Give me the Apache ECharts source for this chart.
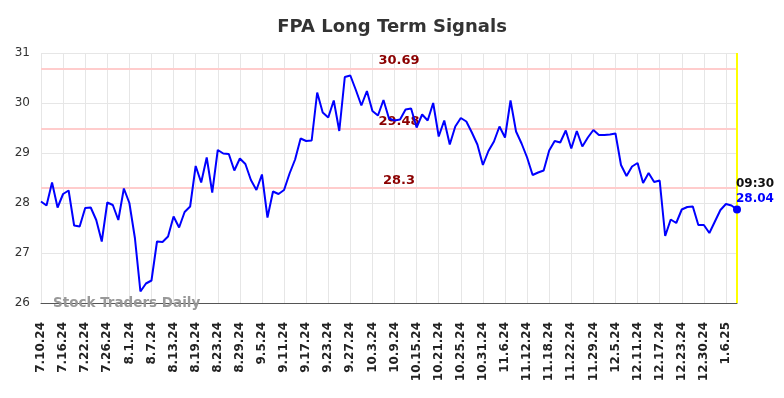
<!DOCTYPE html>
<html>
<head>
<meta charset="utf-8">
<script src="https://cdn.jsdelivr.net/npm/echarts@6/dist/echarts.min.js"></script>
<style>html,body{margin:0;padding:0;background:#fff}#c{width:784px;height:398px}</style>
</head>
<body>
<div id="c"></div>
<script>
const dates = [
 '7.10.24','7.11.24','7.12.24','7.15.24','7.16.24','7.17.24','7.18.24','7.19.24','7.22.24','7.23.24','7.24.24','7.25.24','7.26.24','7.29.24','7.30.24','7.31.24',
 '8.1.24','8.2.24','8.5.24','8.6.24','8.7.24','8.8.24','8.9.24','8.12.24','8.13.24','8.14.24','8.15.24','8.16.24','8.19.24','8.20.24','8.21.24','8.22.24','8.23.24','8.26.24','8.27.24','8.28.24','8.29.24','8.30.24',
 '9.3.24','9.4.24','9.5.24','9.6.24','9.9.24','9.10.24','9.11.24','9.12.24','9.13.24','9.16.24','9.17.24','9.18.24','9.19.24','9.20.24','9.23.24','9.24.24','9.25.24','9.26.24','9.27.24','9.30.24',
 '10.1.24','10.2.24','10.3.24','10.4.24','10.7.24','10.8.24','10.9.24','10.10.24','10.11.24','10.14.24','10.15.24','10.16.24','10.17.24','10.18.24','10.21.24','10.22.24','10.23.24','10.24.24','10.25.24','10.28.24','10.29.24','10.30.24','10.31.24',
 '11.1.24','11.4.24','11.5.24','11.6.24','11.7.24','11.8.24','11.11.24','11.12.24','11.13.24','11.14.24','11.15.24','11.18.24','11.19.24','11.20.24','11.21.24','11.22.24','11.25.24','11.26.24','11.27.24','11.29.24',
 '12.2.24','12.3.24','12.4.24','12.5.24','12.6.24','12.9.24','12.10.24','12.11.24','12.12.24','12.13.24','12.16.24','12.17.24','12.18.24','12.19.24','12.20.24','12.23.24','12.24.24','12.26.24','12.27.24','12.30.24','12.31.24',
 '1.2.25','1.3.25','1.6.25','1.7.25','1.8.25'
];
const prices = [
 28.03,27.95,28.41,27.91,28.18,28.25,27.55,27.53,27.90,27.91,27.66,27.23,28.01,27.96,27.66,28.29,
 28.00,27.30,26.23,26.39,26.45,27.23,27.22,27.33,27.73,27.51,27.82,27.93,28.74,28.41,28.91,28.21,29.06,28.99,28.98,28.65,28.89,28.78,
 28.46,28.26,28.57,27.71,28.23,28.18,28.26,28.59,28.87,29.29,29.24,29.25,30.21,29.81,29.71,30.05,29.44,30.52,30.55,30.26,
 29.95,30.24,29.84,29.75,30.06,29.69,29.65,29.67,29.87,29.89,29.51,29.77,29.65,30.00,29.33,29.65,29.17,29.53,29.70,29.63,29.41,29.17,28.76,
 29.04,29.23,29.53,29.31,30.05,29.43,29.19,28.91,28.56,28.61,28.65,29.05,29.24,29.21,29.45,29.09,29.44,29.13,29.31,29.46,
 29.36,29.36,29.37,29.39,28.76,28.54,28.73,28.80,28.40,28.60,28.42,28.45,27.34,27.67,27.60,27.87,27.92,27.93,27.56,27.56,27.40,
 27.63,27.86,27.98,27.95,27.87
];
const signalLevels = [30.69, 29.48, 28.3];
const yTicks = [26, 27, 28, 29, 30, 31];
const lastTime = '09:30';
const lastLabel = '28.04';
const titleText = 'FPA Long Term Signals';
const watermark = 'Stock Traders Daily';

const lastIdx = prices.length - 1;
const lastVal = prices[lastIdx];
const F = 'DejaVu Sans';

const chart = echarts.init(document.getElementById('c'), null, {renderer: 'canvas'});
chart.setOption({
  animation: false,
  backgroundColor: '#fff',
  title: {
    text: titleText, left: 'center', top: 13,
    textStyle: {fontFamily: F, fontSize: 18, fontWeight: 'bold', color: '#333'}
  },
  grid: {left: 41, right: 47, top: 53, bottom: 95},
  xAxis: {
    type: 'category', data: dates, boundaryGap: false,
    axisLine: {show: true, lineStyle: {color: '#555', width: 1}},
    axisTick: {show: false},
    axisLabel: {interval: 3, rotate: 90, margin: 19, fontFamily: F, fontSize: 12, fontWeight: 'bold', color: '#222'},
    splitLine: {show: true, interval: 3, lineStyle: {color: '#e6e6e6', width: 1}}
  },
  yAxis: {
    type: 'value', min: yTicks[0], max: yTicks[yTicks.length - 1], interval: 1,
    axisLine: {show: false}, axisTick: {show: false},
    axisLabel: {margin: 11, fontFamily: F, fontSize: 12, color: '#333'},
    splitLine: {show: true, lineStyle: {color: '#e6e6e6', width: 1}}
  },
  graphic: [{
    type: 'text', left: 53, top: 296, z: 10,
    style: {text: watermark, fontFamily: F, fontSize: 13.5, fontWeight: 'bold', fill: '#999'}
  }],
  series: [{
    type: 'line', data: prices, symbol: 'none', smooth: false,
    lineStyle: {color: '#0000ff', width: 2},
    z: 5,
    markLine: {
      silent: true, symbol: 'none', animation: false,
      data: signalLevels.map(v => ({
        yAxis: v,
        lineStyle: {color: '#ffcccc', width: 2, type: 'solid'},
        label: {show: true, position: 'insideMiddleTop', formatter: String(v), distance: 1,
          padding: [0, 0, 0, 20],
          fontFamily: F, fontSize: 13, fontWeight: 'bold', color: '#8b0000'}
      })).concat([{
        xAxis: lastIdx,
        lineStyle: {color: '#ffff00', width: 2, type: 'solid'},
        label: {show: false}
      }])
    },
    markPoint: {
      silent: true, animation: false,
      data: [{
        coord: [lastIdx, lastVal], symbol: 'circle', symbolSize: 8,
        itemStyle: {color: '#0000ff'},
        label: {
          show: true, position: [3, -29], align: 'left', verticalAlign: 'top',
          formatter: '{t|' + lastTime + '}\n{v|' + lastLabel + '}',
          rich: {
            t: {fontFamily: F, fontSize: 12, fontWeight: 'bold', color: '#111', lineHeight: 15},
            v: {fontFamily: F, fontSize: 12, fontWeight: 'bold', color: '#0000ff', lineHeight: 15}
          }
        }
      }]
    }
  }]
});
</script>
</body>
</html>
